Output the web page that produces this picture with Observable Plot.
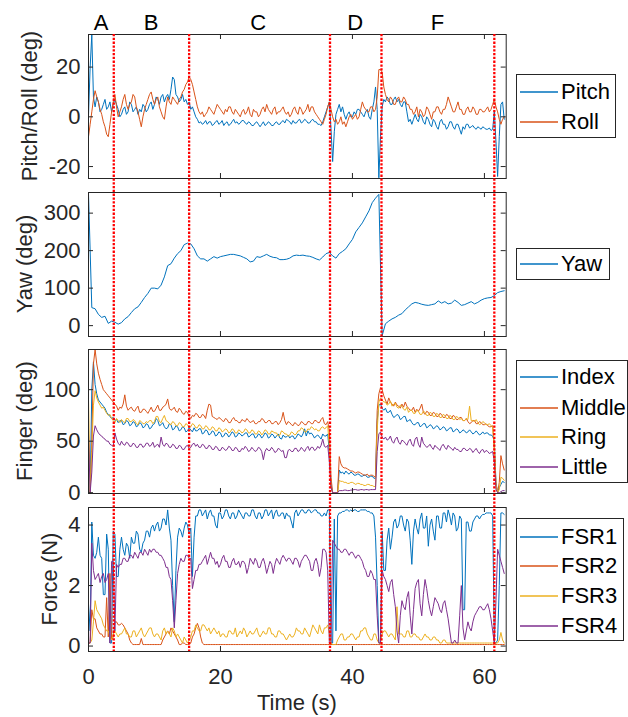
<!DOCTYPE html>
<html><head><meta charset="utf-8">
<script src="https://cdn.jsdelivr.net/npm/d3@7"></script>
<script src="https://cdn.jsdelivr.net/npm/@observablehq/plot@0.6"></script>
<style>
body{margin:0;background:#fff;}
#fig{position:relative;width:628px;height:717px;overflow:hidden;background:#fff;font-family:"Liberation Sans",Arial,sans-serif;}
#fig svg{position:absolute;left:0;}
.legend{position:absolute;background:#fff;border:1px solid #262626;box-sizing:border-box;}
.lrow{position:absolute;left:0;height:30px;display:flex;align-items:center;font-size:22px;line-height:30px;color:#000;white-space:nowrap;}
.ytitle{position:absolute;width:240px;height:22px;line-height:22px;text-align:center;font-size:22px;color:#262626;transform:rotate(-90deg);white-space:nowrap;}
</style></head><body><div id="fig"></div>
<script>
// ---------- data ----------
// sample times: 0.25 s for the noisy signals, 0.5 s for the smooth yaw
const time = d3.range(0, 63.01, 0.25);
const timeYaw = d3.range(0, 63.01, 0.5);

const pitch = [
 0.5,20,33,8,4,8,6,2,3,5,7,3,4,6,2,5,7,5,3,0,
 1,3,4,1,2,6,5,2,3,4,1,3,2,5,4,2,3,5,6,3,
 5,8,7,5,8,9,6,8,9,7,11,16,15,9,8,6,7,9,6,7,
 5,6,3,4,2,0,-1,-2.5,-2,-3,-2.5,-1.5,-3,-2,-2,-3.5,-3,-2,-1.5,-3,
 -2.5,-1.5,-3.5,-2.5,-2,-3.5,-3,-2,-1,-2.5,-2,-3,-2.5,-1.5,-1.5,-2.5,-3,-2,-2.5,-3.5,
 -3.5,-2.5,-2,-3,-4,-3,-2,-3.5,-3,-2,-2.5,-3.5,-3.5,-2.5,-2,-3,-3,-2,-1.5,-2.5,
 -1,-1.5,-2,-3,-1.5,-2.5,-2.5,-1.5,-1,-2.5,-2,-1,-1.5,-2.5,-2.5,-1.5,-1,-2,-2,-3,
 -3,-3.5,-2,0,2,4,6,-5,-18,-6,1,3,5,2,4,1,-1,1,2,0,
 0,2,1,3,3,2,1,0,2,3,0,-1,3,6,12,3,-24.5,-8,4,7,
 6,8,7,5,5,7,8,6,7,5,4,6,6,2,-2,-1,-3,-1,1,-1,
 -2,1,0,-2,-3,0,-1,-3,-4,-1,-2,-4,-5,-2,-1,-3,-3,-5,-4,-2,
 -2,-4,-5,-3,-3,-5,-7,-4,-5,-3,-3,-4.5,-4,-3.5,-4.5,-5,-4,-4.5,-5,-4,
 -4.5,-5,-5,-4.5,-5.5,-5,2,-10,-24,-8,5,6,-1];
const roll = [
 -8,-3,2,7,10.5,8,6,3,1,-2,-4,-7,-8,-3,2,6,9,4,0,2,
 4,7,9,5,3,5,6,9,8,4,2,-1,-4,0,3,5,7,9,10,7,
 5,7,8,4,2,0,-1,4,8,6,5,8,7,6,5,7,8,10,11,13,
 14,16,15,13,10,7,4,2,1,2,0,1,2,4,3,2,1,3,5,4,
 3,2,1,3,2,4,4,2,1,3,2,1,0,2,3,1,2,4,1,0,
 3,2,2,0,1,3,4,2,5,3,2,1,3,4,1,2,2,3,4,2,
 1,2,0,1,3,4,2,1,4,3,1,2,3,5,2,4,4,2,1,0,
 -1,-2,-3,-1,1,4,6,3,0,-2,-1,-3,-2,0,-3,-2,-4,-2,0,1,
 -1,0,1,-1,0,3,6,4,3,2,2,4,4,2,3,8,19,19,18,12,
 9,7,6,8,7,5,5,7,8,6,6,8,7,5,5,3,3,1,2,4,
 0,3,2,0,1,4,3,1,-1,2,2,4,4,2,1,3,3,5,8,6,
 4,2,2,4,6,3,3,1,1,3,4,2,2,4,3,1,1,3,3,2,
 2,3,4,2,3,5,7,4,2,-1,-3,-1,0];
const yaw = [352,48,45,30,22,25,6,12,9,4, 8,18,24,35,45,50,62,75,86,100, 100,98,108,130,160,165,180,192,200,216,
 220,218,205,186,178,178,172,178,184,180, 184,186,188,190,190,188,186,182,178,170, 172,184,182,186,190,185,182,181,176,176,
 177,180,186,188,187,188,186,185,182,178, 175,183,192,195,186,180,192,198,205,218, 230,250,262,274,290,306,328,340,350,-27,
 5,12,18,22,28,32,42,50,58,62, 60,57,55,54,56,58,66,60,64,58, 60,68,62,54,56,60,64,58,62,68, 72,74,75,80,88,91,93];

const index = [
 0,0,100,127,105,96,90,88,86,84,82,78,76,74,72,73,70,71,68,70,
 70,66,67,70,69,65,66,69,68,64,65,68,67,63,64,67,66,62,63,66,
 67,72,70,65,66,68,64,62,63,67,66,61,62,65,64,60,61,64,63,59,
 60,63,61,59,63,60,60,62,62,57,58,61,60,56,57,60,59,55,56,59,
 58,54,55,58,57,54,56,59,58,54,55,58,57,55,56,58,58,54,55,57,
 57,53,54,57,56,53,55,58,57,53,54,57,56,53,55,57,53,52,56,54,
 54,56,53,55,55,52,54,57,56,54,57,62,55,60,57,58,56,53,55,56,
 54,52,57,55,55,57,40,8,0,0,0,0,22,19,20,18,21,19,18,20,
 19,17,17,18,18,16,16,17,17,15,15,16,16,14,14,70,85,86,82,80,
 82,78,78,80,76,73,74,76,75,71,72,74,74,69,70,71,68,66,66,68,
 68,64,65,67,67,63,64,66,65,62,63,65,64,61,62,64,63,60,61,63,
 63,59,60,62,61,58,59,61,60,58,59,61,59,57,58,60,58,56,57,59,
 57,58,58,56,56,55,50,10,0,5,8,11,10];
const middle = [
 0,0,50,125,139,125,116,110,105,100,98,96,94,92,90,88,86,84,80,83,
 82,86,95,84,80,82,83,80,79,82,84,78,78,81,81,79,77,80,83,79,
 79,82,85,80,80,83,84,86,91,82,80,81,83,79,78,82,80,77,76,79,
 78,74,72,75,74,77,76,73,73,76,75,72,80,86,85,74,73,72,71,73,
 72,70,69,72,71,68,68,71,73,70,70,68,68,71,70,69,72,70,68,69,
 70,67,67,69,69,72,71,68,68,70,70,67,67,69,69,66,68,71,78,70,
 66,69,68,66,65,68,67,65,66,69,68,66,66,69,69,67,67,70,70,68,
 68,71,73,67,66,69,60,15,0,0,0,0,35,28,25,24,24,23,22,21,
 21,20,19,20,20,19,18,17,17,18,16,17,17,16,15,80,96,102,100,94,
 90,86,92,88,86,84,88,85,84,82,86,83,88,84,82,80,80,83,78,81,
 79,82,86,78,76,79,78,75,75,78,77,74,74,77,76,73,73,76,75,72,
 72,75,74,71,71,73,73,70,70,72,69,67,68,70,70,67,67,69,68,66,
 66,67,65,64,64,65,40,8,0,10,36,28,22];
const ring = [
 91,0,40,85,99,92,88,85,82,83,80,77,75,76,72,70,68,72,70,68,
 71,69,68,72,72,69,69,71,70,67,66,70,69,67,67,69,68,70,70,67,
 69,74,74,69,68,72,75,70,69,67,66,69,68,65,65,68,67,64,64,67,
 66,63,64,67,66,63,63,66,65,62,62,65,64,61,61,64,63,60,60,63,
 62,59,60,62,61,58,59,62,61,58,58,61,60,58,59,62,61,58,58,61,
 60,57,57,60,59,56,58,61,60,57,57,60,59,58,58,55,56,60,59,57,
 57,55,56,59,58,56,57,60,60,63,62,59,59,62,61,64,63,61,62,60,
 60,63,64,62,63,65,45,5,0,0,0,0,12,11,11,10,10,9,9,10,
 10,9,8,9,9,8,8,7,7,8,8,7,7,6,6,60,88,92,90,88,
 88,85,86,89,84,86,87,83,82,85,84,81,80,83,78,80,80,77,77,80,
 79,76,76,79,78,75,75,78,77,74,74,77,76,73,73,76,75,72,72,75,
 74,71,71,74,73,71,72,70,70,72,71,84,70,70,69,71,68,66,67,69,
 68,66,66,67,65,64,45,8,0,3,15,14,12];
const little = [
 57,0,20,55,65,61,58,56,55,53,52,50,50,47,46,45,58,52,48,46,
 50,47,46,49,48,45,45,48,47,44,44,47,47,44,45,48,48,45,46,49,
 44,46,47,44,54,47,45,48,47,44,44,47,46,43,43,46,45,42,42,45,
 46,43,44,47,48,45,47,44,44,47,46,43,43,46,45,42,42,45,44,41,
 41,44,43,41,42,45,44,41,41,44,43,40,40,43,42,45,43,40,41,44,
 42,40,41,44,43,40,32,40,43,41,41,44,42,39,40,43,42,40,41,34,
 34,41,42,40,40,43,43,40,41,44,42,40,43,45,41,44,44,41,42,45,
 43,46,52,45,44,46,30,5,0,0,0,0,2,2,2,2.5,2.5,2,2,2.5,
 2.5,3,3,2.5,2.5,3,3,2.5,3,3,2.5,3,3,3,3,40,57,59,54,52,
 54,51,52,55,50,48,52,54,49,47,51,50,48,46,50,52,47,45,52,54,
 47,44,54,48,46,44,45,47,44,42,46,44,43,41,45,47,44,42,46,44,
 43,41,44,42,42,40,40,43,43,41,41,43,42,39,41,43,40,38,41,42,
 39,41,40,38,39,40,30,3,0,0,1,2,2];

const fsr1 = [
 1.4,0.5,4.1,3.0,2.9,3.1,3.6,3.0,2.9,1.7,1.7,3.7,3.2,0.1,0.1,3.8,3.7,2.3,2.3,3.2,
 3.6,3.2,3.0,3.4,3.3,2.9,3.6,3.4,3.4,3.8,3.7,3.2,3.1,3.4,3.5,3.8,3.8,3.6,3.9,4.0,
 3.8,4.0,4.1,3.8,3.9,4.2,4.2,4.0,4.5,3.9,3.5,2.0,0.8,2.5,3.6,3.9,3.8,3.6,3.9,4.1,
 4.0,3.7,3.9,2.3,3.6,4.3,4.3,4.5,4.5,4.3,4.4,4.5,4.2,4.4,4.5,4.3,4.3,4.0,3.9,4.4,
 4.4,4.2,4.3,4.5,4.5,4.3,4.2,4.4,4.4,4.2,4.3,4.5,4.4,4.3,4.2,4.4,4.4,4.3,4.3,4.5,
 4.5,4.3,4.2,4.4,4.4,4.2,4.3,4.5,4.5,4.3,4.4,4.5,4.2,4.4,4.5,4.3,4.3,4.4,4.4,4.2,
 4.4,4.3,4.3,4.1,3.9,4.4,4.5,4.3,4.4,4.5,4.5,4.4,4.4,4.5,4.5,4.4,4.45,4.5,4.5,4.4,
 4.4,4.3,4.3,4.4,4.3,4.5,4.5,0.1,0.1,4.2,0.5,4.3,4.4,4.4,4.45,4.45,4.5,4.5,4.45,4.5,
 4.45,4.5,4.5,4.45,4.45,4.5,4.5,4.5,4.5,4.45,4.45,4.4,4.4,4.3,3.6,2.0,0.1,0.1,3.8,2.5,
 2.5,3.5,3.9,3.2,3.6,4.1,4.2,3.9,4.0,4.3,4.3,4.0,3.8,4.2,4.1,3.5,2.7,3.8,4.2,3.9,
 3.7,4.2,4.4,3.9,3.9,4.3,3.3,4.0,4.2,3.8,3.5,4.3,4.3,3.9,3.9,4.4,4.4,4.1,4.5,4.3,
 4.0,4.4,4.3,3.8,3.9,4.3,4.2,1.2,1.2,4.1,4.1,3.8,3.8,4.1,4.2,4.3,4.3,4.2,4.3,4.35,
 4.35,4.4,4.4,4.4,4.4,4.3,0.1,0.1,0.2,2.0,4.4,4.4,4.35];
const fsr2 = [
 0.1,0.1,1.2,0.9,0.9,0.6,0.5,0.4,0.4,0.3,0.3,1.6,0.3,2.4,0.2,0.3,0.8,0.8,0.7,0.7,
 0.75,0.7,0.6,0.5,0.4,0.2,0.1,0.05,0.05,0.05,0.05,0.05,0.25,0.05,0.05,0.05,0.05,0.05,0.05,0.05,
 0.05,0.05,0.05,0.05,0.05,0.2,0.3,0.4,0.5,0.4,0.6,0.5,0.4,0.3,0.2,0.05,0.05,0.1,0.1,0.05,
 0.05,0.05,0.1,0.3,0.4,0.6,0.75,0.6,0.3,0.1,0.05,0.05,0.05,0.05,0.05,0.05,0.05,0.05,0.05,0.05,
 0.05,0.05,0.05,0.05,0.05,0.05,0.05,0.05,0.05,0.05,0.05,0.05,0.05,0.05,0.05,0.05,0.05,0.05,0.05,0.05,
 0.05,0.05,0.05,0.05,0.05,0.05,0.05,0.05,0.05,0.05,0.05,0.05,0.05,0.05,0.05,0.05,0.05,0.05,0.05,0.05,
 0.05,0.05,0.05,0.05,0.05,0.05,0.05,0.05,0.05,0.05,0.05,0.05,0.05,0.05,0.05,0.05,0.05,0.05,0.05,0.05,
 0.05,0.05,0.05,0.05,0.05,0.05,0.05,0.05,0.05,0.05,0.05,0.05,0.05,0.05,0.05,0.05,0.05,0.05,0.05,0.05,
 0.05,0.05,0.05,0.05,0.05,0.05,0.05,0.05,0.05,0.05,0.05,0.05,0.05,0.05,0.05,0.05,0.05,0.05,0.05,0.05,
 0.05,0.05,0.05,0.05,0.05,0.05,0.05,0.05,0.05,0.05,0.05,0.05,0.05,0.05,0.05,0.05,0.05,0.05,0.05,0.05,
 0.05,0.05,0.05,0.05,0.05,0.05,0.05,0.05,0.05,0.05,0.05,0.05,0.05,0.05,0.05,0.05,0.05,0.05,0.05,0.05,
 0.05,0.05,0.05,0.05,0.05,0.05,0.05,0.05,0.05,0.05,0.05,0.05,0.05,0.05,0.05,0.05,0.05,0.05,0.05,0.05,
 0.05,0.05,0.05,0.05,0.05,0.05,0.05,0.05,0.05,0.05,0.05,0.05,0.05];
const fsr3 = [
 0.1,0.1,0.2,0.8,1.5,1.2,1.1,1.0,0.9,0.7,0.6,0.5,0.5,0.3,0.2,0.4,0.5,0.4,0.3,0.4,
 0.4,0.5,0.6,0.4,0.4,0.3,0.3,0.5,0.5,0.3,0.4,0.5,0.6,0.4,0.3,0.4,0.5,0.6,0.6,0.4,
 0.3,0.4,0.4,0.3,0.2,0.5,0.6,0.4,0.5,0.4,0.3,0.6,0.5,0.3,0.4,0.3,0.2,0.1,0.3,0.2,
 0.1,0.2,0.3,0.5,0.5,0.7,0.6,0.5,0.5,0.7,0.7,0.6,0.5,0.6,0.4,0.5,0.6,0.5,0.4,0.5,
 0.3,0.4,0.4,0.3,0.3,0.5,0.5,0.4,0.4,0.6,0.3,0.4,0.5,0.4,0.6,0.5,0.3,0.4,0.5,0.4,
 0.4,0.5,0.6,0.4,0.3,0.4,0.5,0.4,0.4,0.6,0.6,0.4,0.4,0.3,0.3,0.5,0.5,0.4,0.4,0.3,
 0.2,0.3,0.4,0.3,0.3,0.4,0.6,0.5,0.5,0.4,0.4,0.6,0.5,0.4,0.3,0.5,0.7,0.6,0.5,0.4,
 0.7,0.5,0.4,0.6,0.6,0.7,0.4,0.1,0.05,0.05,0.05,0.2,0.3,0.4,0.4,0.2,0.2,0.3,0.3,0.4,
 0.4,0.3,0.2,0.3,0.3,0.5,0.5,0.6,0.6,0.4,0.3,0.2,0.2,0.4,0.4,0.2,0.1,0.1,0.4,0.5,
 0.5,0.4,0.3,0.4,0.4,0.3,0.2,1.3,0.4,0.4,0.4,0.3,0.3,0.5,0.5,0.3,0.3,0.4,0.4,0.3,
 0.3,0.2,0.2,0.3,0.4,0.3,0.3,0.2,0.2,0.3,0.3,0.2,0.2,0.1,0.1,0.2,0.2,0.1,0.1,0.1,
 0.1,0.1,0.1,0.1,0.1,0.1,0.1,0.1,0.1,0.1,0.1,0.1,0.1,0.1,0.1,0.1,0.1,0.1,0.1,0.1,
 0.1,0.1,0.1,0.1,0.1,0.1,0.1,0.1,0.1,0.2,0.45,0.2,0.1];
const fsr4 = [
 0.1,0.1,3.4,2.5,2.2,2.3,2.4,2.1,2.3,2.4,2.1,2.2,2.4,0.1,2.8,2.8,0.5,2.7,2.6,2.7,
 2.7,2.9,2.9,2.8,2.8,3.0,3.0,2.9,3.1,3.0,2.9,3.1,3.1,3.0,3.2,3.1,3.0,3.2,3.1,3.2,
 3.2,3.1,3.1,3.0,3.0,2.9,2.8,2.6,2.6,2.3,2.2,1.5,0.6,1.5,2.4,2.7,2.9,2.8,2.8,3.0,
 3.0,2.9,2.9,1.9,2.2,2.5,2.5,2.7,2.7,2.8,2.9,3.0,2.7,2.9,3.1,2.9,2.9,2.7,2.8,2.6,
 2.7,2.9,3.0,2.8,2.8,2.6,2.6,2.8,2.9,2.7,2.7,2.8,2.6,2.8,2.8,2.7,2.4,2.6,2.9,2.8,
 2.7,2.9,2.8,2.6,2.6,2.8,2.9,2.7,2.4,2.6,2.8,2.7,2.4,2.7,2.9,2.8,2.7,2.9,3.0,2.9,
 2.8,2.9,2.9,2.8,2.7,2.9,2.9,2.8,2.6,2.8,2.9,3.0,3.0,2.9,2.8,2.5,2.5,2.8,2.9,2.7,
 2.3,2.6,3.2,3.2,3.1,2.5,0.1,0.1,3.5,3.4,3.3,3.2,3.2,3.1,3.1,3.2,3.2,3.1,3.0,3.1,
 3.1,3.0,2.9,3.0,3.0,2.9,2.8,2.6,2.5,2.3,2.3,2.5,2.4,2.2,2.2,1.0,0.1,0.1,2.5,2.3,
 2.2,2.0,1.8,2.1,2.2,1.7,1.3,0.5,0.1,1.0,1.5,1.3,1.2,1.6,1.8,1.0,0.4,1.2,1.9,2.1,
 2.2,1.4,1.0,1.7,2.2,1.9,1.5,1.2,1.0,1.3,1.6,1.5,1.4,1.2,1.1,1.4,1.5,1.2,0.9,0.5,
 0.1,0.1,0.2,0.1,0.1,1.0,2.0,0.6,0.2,0.5,0.8,0.6,0.5,0.8,1.0,1.1,1.2,1.3,1.3,1.2,
 1.2,1.3,1.4,1.2,0.9,0.5,0.1,1.5,3.2,3.0,2.8,2.6,2.4];

const eventTimes = [3.83, 15.25, 36.6, 44.4, 61.5];
const phaseLabels = ["A", "B", "C", "D", "F"];
const phaseCenters = [1.9, 9.5, 25.7, 40.4, 52.9];

const xTicks = [0, 20, 40, 60];
const yTicksAngle = [-20, 0, 20];
const yTicksYaw = [0, 100, 200, 300];
const yTicksFinger = [0, 50, 100];
const yTicksForce = [0, 2, 4];

const colors = ["#0072BD", "#D95319", "#EDB120", "#7E2F8E"];

// sanity check on lengths
const bad = Object.entries({pitch, roll, index, middle, ring, little, fsr1, fsr2, fsr3, fsr4})
  .filter(([k, v]) => v.length !== time.length).map(([k, v]) => k + ":" + v.length);
if (yaw.length !== timeYaw.length) bad.push("yaw:" + yaw.length);
if (bad.length) throw new Error("length mismatch " + bad.join(", ") + " expected " + time.length);

// ---------- layout ----------
const W = 628, FL = 88, FR = 505.7, PH = 144;
const xDomain = [0, 63.3];
const fig = document.getElementById("fig");
const font = {fontFamily: "'Liberation Sans', Arial, sans-serif", fontSize: "22px", color: "#262626", background: "transparent", overflow: "visible"};

function panel({top, yDomain, yTicks, series, mt = 10, mb = 10, xLabels = false, extra = []}) {
  const marks = [];
  series.forEach(s => {
    const t = s.t || time;
    marks.push(Plot.line(t, {x: d => d, y: (d, i) => s.values[i], stroke: s.color, strokeWidth: 1}));
  });
  marks.push(Plot.frame({stroke: "#262626", strokeWidth: 1}));
  marks.push(Plot.tickY(yTicks, {y: d => d, stroke: "#262626", insetRight: (FR - FL) - 5}));
  marks.push(Plot.tickY(yTicks, {y: d => d, stroke: "#262626", insetLeft: (FR - FL) - 5}));
  marks.push(Plot.tickX(xTicks, {x: d => d, stroke: "#262626", insetBottom: PH - 5}));
  marks.push(Plot.tickX(xTicks, {x: d => d, stroke: "#262626", insetTop: PH - 5}));
  marks.push(Plot.axisY(yTicks, {tickSize: 0, tickPadding: 8, tickFormat: d => String(d), label: null}));
  if (xLabels) marks.push(Plot.axisX(xTicks, {tickSize: 0, tickPadding: 17, tickFormat: d => String(d), label: null}));
  marks.push(...extra);
  const svg = Plot.plot({
    width: W, height: mt + PH + mb,
    marginTop: mt, marginBottom: mb, marginLeft: FL, marginRight: W - FR,
    x: {domain: xDomain, axis: xLabels ? undefined : null},
    y: {domain: yDomain},
    style: font,
    marks
  });
  svg.style.top = (top - mt) + "px";
  fig.appendChild(svg);
}

panel({top: 34, mt: 34, yDomain: [-24.8, 33.1], yTicks: yTicksAngle,
  series: [{values: pitch, color: colors[0]}, {values: roll, color: colors[1]}],
  extra: [Plot.text(phaseLabels, {x: (d, i) => phaseCenters[i], text: d => d, frameAnchor: "top", dy: -11.4, lineAnchor: "middle", fill: "#000", fontSize: 22})]});
panel({top: 191.7, yDomain: [-29, 355], yTicks: yTicksYaw,
  series: [{values: yaw, t: timeYaw, color: colors[0]}]});
panel({top: 349.4, yDomain: [-0.8, 139], yTicks: yTicksFinger,
  series: [{values: index, color: colors[0]}, {values: middle, color: colors[1]}, {values: ring, color: colors[2]}, {values: little, color: colors[3]}]});
panel({top: 507.2, mb: 66, yDomain: [-0.18, 4.58], yTicks: yTicksForce, xLabels: true,
  series: [{values: fsr1, color: colors[0]}, {values: fsr2, color: colors[1]}, {values: fsr3, color: colors[2]}, {values: fsr4, color: colors[3]}]});

// event lines across all panels
const ov = Plot.plot({
  width: W, height: 651, marginTop: 34, marginBottom: 0, marginLeft: FL, marginRight: W - FR,
  x: {domain: xDomain, axis: null},
  style: font,
  marks: [Plot.ruleX(eventTimes, {x: d => d, stroke: "#ff0000", strokeWidth: 2.3, strokeDasharray: "2.3,1.5"})]
});
ov.style.top = "0px";
fig.appendChild(ov);

// x title
const xt = document.createElement("div");
xt.textContent = "Time (s)";
xt.style.cssText = "position:absolute;left:" + ((FL + FR) / 2 - 100) + "px;width:200px;top:690px;text-align:center;font-size:22px;line-height:26px;color:#262626;";
fig.appendChild(xt);

// y titles
const yTitles = [["Pitch/Roll (deg)", 30.3, 106], ["Yaw (deg)", 25, 264], ["Finger (deg)", 25, 421.4], ["Force (N)", 49.5, 579]];
yTitles.forEach(([txt, cx, cy]) => {
  const d = document.createElement("div");
  d.className = "ytitle";
  d.textContent = txt;
  d.style.left = (cx - 120) + "px";
  d.style.top = (cy - 11) + "px";
  fig.appendChild(d);
});

// legends
const legends = [
  {box: [516, 74, 100, 64], rows: [["Pitch", colors[0], 91.7], ["Roll", colors[1], 122.3]]},
  {box: [516, 247.7, 93.5, 32.5], rows: [["Yaw", colors[0], 263.8]]},
  {box: [516, 360, 112, 122.7], rows: [["Index", colors[0], 377.3], ["Middle", colors[1], 407.7], ["Ring", colors[2], 437], ["Little", colors[3], 467]]},
  {box: [516, 517.7, 107.5, 123], rows: [["FSR1", colors[0], 536.7], ["FSR2", colors[1], 566], ["FSR3", colors[2], 596], ["FSR4", colors[3], 626]]}
];
legends.forEach(L => {
  const [x, y, w, h] = L.box;
  const b = document.createElement("div");
  b.className = "legend";
  b.style.cssText += `left:${x}px;top:${y}px;width:${w}px;height:${h}px;`;
  fig.appendChild(b);
  L.rows.forEach(([name, col, cy]) => {
    const r = document.createElement("div");
    r.className = "lrow";
    r.style.left = (x + 4) + "px";
    r.style.top = (cy - 15) + "px";
    r.innerHTML = `<svg width="41" height="30" style="position:static;display:block"><line x1="0" x2="38" y1="15" y2="15" stroke="${col}" stroke-width="1.5"/></svg><span>${name}</span>`;
    fig.appendChild(r);
  });
});
</script>
</body></html>
